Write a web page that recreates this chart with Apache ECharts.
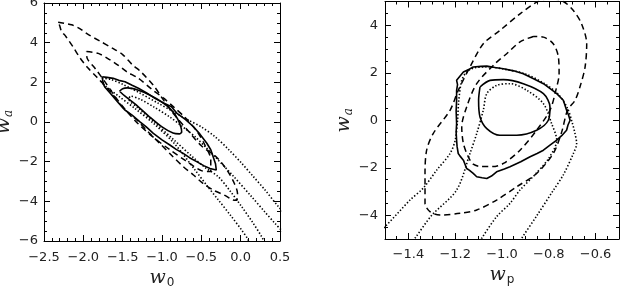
<!DOCTYPE html>
<html><head><meta charset="utf-8">
<script src="https://cdn.jsdelivr.net/npm/echarts@6/dist/echarts.min.js"></script>
<style>html,body{margin:0;padding:0;background:#fff}#c{width:620px;height:288px}</style>
</head><body><div id="c"></div>
<script>
// ---- Left panel (w0, wa) ----
const L_xTicks = [-2.5, -2.0, -1.5, -1.0, -0.5, 0.0, 0.5];
const L_yTicks = [-6, -4, -2, 0, 2, 4, 6];
const L_solidInner = [[-1.54,1.55],[-1.5,1.68],[-1.44,1.72],[-1.3,1.6],[-1.15,1.35],[-1.0,1.0],[-0.88,0.6],[-0.8,0.15],[-0.76,-0.25],[-0.75,-0.5],[-0.78,-0.6],[-0.86,-0.56],[-1.0,-0.25],[-1.17,0.3],[-1.34,0.9],[-1.47,1.3],[-1.54,1.55]];
const L_solidOuter = [[-1.76,2.28],[-1.7,2.25],[-1.62,2.2],[-1.55,2.1],[-1.47,2.03],[-1.38,1.85],[-1.3,1.7],[-1.2,1.48],[-1.09,1.19],[-1.0,1.0],[-0.88,0.77],[-0.81,0.44],[-0.7,0.12],[-0.6,-0.24],[-0.52,-0.6],[-0.43,-1.07],[-0.38,-1.4],[-0.35,-1.75],[-0.32,-2.1],[-0.31,-2.42],[-0.33,-2.48],[-0.39,-2.34],[-0.47,-2.2],[-0.56,-2.0],[-0.65,-1.8],[-0.73,-1.58],[-0.82,-1.38],[-0.9,-1.16],[-1.0,-0.9],[-1.11,-0.57],[-1.2,-0.25],[-1.28,0.01],[-1.38,0.35],[-1.47,0.6],[-1.55,0.95],[-1.62,1.28],[-1.68,1.55],[-1.73,1.78],[-1.75,2.0],[-1.76,2.28]];
const L_dashOuter = [[-2.32,5.03],[-2.15,4.9],[-2.04,4.7],[-1.95,4.44],[-1.79,4.08],[-1.62,3.7],[-1.5,3.4],[-1.38,2.9],[-1.26,2.5],[-1.1,1.8],[-0.98,1.1],[-0.85,0.4],[-0.64,-0.57],[-0.5,-1.2],[-0.3,-1.8],[-0.17,-2.45],[-0.08,-3.1],[-0.04,-3.6],[-0.05,-3.95],[-0.1,-3.93],[-0.2,-3.7],[-0.35,-3.43],[-0.48,-3.09],[-0.6,-2.67],[-0.73,-2.25],[-0.86,-1.75],[-1.03,-1.07],[-1.15,-0.6],[-1.32,0.1],[-1.49,0.7],[-1.65,1.5],[-1.83,2.27],[-1.94,2.72],[-2.04,3.22],[-2.13,3.78],[-2.22,4.3],[-2.28,4.6],[-2.3,4.85],[-2.32,5.03]];
const L_dashInner = [[-1.96,3.55],[-1.81,3.46],[-1.66,3.13],[-1.56,2.87],[-1.45,2.54],[-1.3,2.2],[-1.13,1.65],[-0.98,1.2],[-0.85,0.75],[-0.7,0.2],[-0.55,-0.5],[-0.45,-1.2],[-0.38,-1.9],[-0.38,-2.5],[-0.5,-2.45],[-0.7,-1.95],[-0.9,-1.4],[-1.1,-0.8],[-1.3,-0.1],[-1.45,0.55],[-1.6,1.3],[-1.72,2.0],[-1.85,2.7],[-1.95,3.2],[-1.96,3.55]];
const L_dotOuter = [[0.6,-4.75],[0.48,-4.27],[0.31,-3.43],[0.15,-2.7],[0.013,-2.08],[-0.15,-1.4],[-0.326,-0.74],[-0.5,-0.25],[-0.666,0.1],[-0.856,0.52],[-1.05,0.95],[-1.3,1.5],[-1.5,1.9],[-1.65,2.15],[-1.75,2.2],[-1.77,2.05],[-1.7,1.75],[-1.55,1.3],[-1.35,0.7],[-1.1,-0.1],[-0.84,-1.1],[-0.58,-2.42],[-0.43,-3.2],[-0.284,-3.93],[-0.13,-4.7],[0.013,-5.45],[0.09,-5.9],[0.12,-6.2]];
const L_dotInner = [[0.6,-5.8],[0.436,-5.11],[0.3,-4.5],[0.14,-3.77],[-0.1,-2.7],[-0.326,-1.75],[-0.45,-1.25],[-0.58,-0.74],[-0.75,-0.2],[-0.9,0.25],[-1.1,0.75],[-1.28,1.15],[-1.4,1.3],[-1.42,1.15],[-1.3,0.7],[-1.1,0.0],[-0.85,-0.9],[-0.6,-1.8],[-0.45,-2.3],[-0.284,-2.76],[-0.13,-3.5],[0.013,-4.27],[0.15,-5.05],[0.267,-5.78],[0.32,-6.2]];

// ---- Right panel (wp, wa) ----
const R_xTicks = [-1.4, -1.2, -1.0, -0.8, -0.6];
const R_yTicks = [-4, -2, 0, 2, 4];
const R_solidInner = [[-1.094,1.4],[-1.051,1.68],[-0.994,1.71],[-0.909,1.54],[-0.823,1.12],[-0.795,0.56],[-0.802,0.0],[-0.852,-0.42],[-0.937,-0.63],[-1.009,-0.63],[-1.065,-0.35],[-1.094,0.14],[-1.1,0.84],[-1.094,1.4]];
const R_solidOuter = [[-1.194,1.26],[-1.19,1.5],[-1.194,1.68],[-1.18,1.85],[-1.165,2.03],[-1.14,2.15],[-1.123,2.24],[-1.09,2.27],[-1.065,2.28],[-1.03,2.22],[-0.994,2.17],[-0.95,2.08],[-0.909,1.96],[-0.865,1.75],[-0.823,1.54],[-0.79,1.3],[-0.766,1.12],[-0.738,0.84],[-0.724,0.42],[-0.715,0.2],[-0.709,0.0],[-0.718,-0.2],[-0.724,-0.42],[-0.745,-0.65],[-0.766,-0.84],[-0.795,-1.05],[-0.823,-1.26],[-0.85,-1.4],[-0.88,-1.54],[-0.92,-1.75],[-0.966,-1.96],[-0.99,-2.05],[-1.023,-2.17],[-1.045,-2.35],[-1.065,-2.45],[-1.085,-2.42],[-1.108,-2.38],[-1.123,-2.24],[-1.14,-2.1],[-1.151,-2.03],[-1.165,-1.68],[-1.18,-1.5],[-1.187,-1.4],[-1.192,-1.1],[-1.194,-0.84],[-1.196,-0.5],[-1.194,-0.14],[-1.196,0.4],[-1.194,0.84],[-1.194,1.26]];
const R_dashOuter = [[-0.8,5.15],[-0.852,4.97],[-0.923,4.48],[-1.009,3.78],[-1.08,3.22],[-1.137,2.24],[-1.187,1.26],[-1.222,0.42],[-1.294,-0.56],[-1.322,-1.26],[-1.329,-2.24],[-1.329,-2.9],[-1.329,-3.5],[-1.308,-3.85],[-1.265,-3.99],[-1.179,-3.92],[-1.108,-3.78],[-1.023,-3.36],[-0.937,-2.8],[-0.852,-2.24],[-0.781,-1.4],[-0.745,-0.5],[-0.72,0.42],[-0.688,0.84],[-0.667,1.4],[-0.645,2.24],[-0.638,3.22],[-0.66,4.06],[-0.695,4.62],[-0.738,5.0],[-0.8,5.15]];
const R_dashInner = [[-0.866,3.53],[-0.923,3.3],[-0.98,2.8],[-1.03,2.38],[-1.108,1.54],[-1.151,0.56],[-1.172,-0.28],[-1.165,-0.98],[-1.144,-1.54],[-1.123,-1.85],[-1.09,-1.95],[-1.04,-1.95],[-0.994,-1.82],[-0.923,-1.26],[-0.852,-0.42],[-0.795,0.42],[-0.77,1.26],[-0.756,1.96],[-0.759,2.66],[-0.781,3.22],[-0.823,3.5],[-0.866,3.53]];
const R_dotOuter = [[-1.53,-4.7],[-1.5,-4.48],[-1.393,-3.36],[-1.336,-2.85],[-1.279,-2.1],[-1.222,-1.4],[-1.2,-0.84],[-1.19,0.0],[-1.185,0.8],[-1.172,1.68],[-1.151,2.03],[-1.12,2.2],[-1.06,2.25],[-0.99,2.15],[-0.9,1.95],[-0.82,1.55],[-0.76,1.1],[-0.72,0.5],[-0.7,-0.1],[-0.688,-0.56],[-0.681,-0.98],[-0.695,-1.4],[-0.738,-2.3],[-0.78,-2.94],[-0.85,-4.0],[-0.916,-4.97],[-0.93,-5.2]];
const R_dotInner = [[-1.39,-5.2],[-1.372,-4.97],[-1.3,-4.0],[-1.194,-2.94],[-1.137,-1.4],[-1.108,-0.56],[-1.08,0.42],[-1.065,1.12],[-1.023,1.47],[-0.966,1.54],[-0.894,1.26],[-0.823,0.7],[-0.788,-0.14],[-0.766,-0.84],[-0.8,-1.6],[-0.86,-2.3],[-0.923,-2.94],[-0.966,-3.5],[-1.023,-4.06],[-1.087,-4.97],[-1.1,-5.2]];

const chart = echarts.init(document.getElementById('c'), null, {renderer:'canvas'});
const K = '#000';
const TICKFONT = {fontFamily:'DejaVu Sans', fontSize:13, color:'#222'};
const fmt1 = v => (v < -1e-9 ? '\u2212' : '') + Math.abs(v).toFixed(1);
const fmt0 = v => (v < -1e-9 ? '\u2212' : '') + Math.abs(Math.round(v));
const nameRich = {
  w:{fontFamily:'DejaVu Serif', fontStyle:'italic', fontSize:19, color:'#222'},
  s:{fontFamily:'DejaVu Sans', fontSize:12, color:'#222', padding:[9,0,0,1]},
  a:{fontFamily:'DejaVu Serif', fontStyle:'italic', fontSize:12, color:'#222', padding:[9,0,0,1]}
};
function axLine(show){return {show:show, onZero:false, lineStyle:{color:K, width:1}};}
function base(grid, pos, min, max){
  return {type:'value', gridIndex:grid, position:pos, min:min, max:max,
    splitLine:{show:false}, minorSplitLine:{show:false}, axisLine:axLine(true)};
}
function major(ax, len, labels, fmt, margin, custom){
  ax.axisTick = {show:true, inside:true, length:len, lineStyle:{color:K, width:1}};
  ax.axisLabel = labels ? Object.assign({show:true, margin:margin, formatter:fmt}, TICKFONT) : {show:false};
  if (custom){ ax.axisTick.customValues = custom; if (labels) ax.axisLabel.customValues = custom; }
  return ax;
}
function minorOnly(ax, interval){
  ax.interval = interval;
  ax.axisLine = axLine(false);
  ax.axisTick = {show:true, inside:true, length:3, lineStyle:{color:K, width:1}};
  ax.axisLabel = {show:false};
  return ax;
}

// Left axes
const xL = major(base(0,'bottom',L_xTicks[0],L_xTicks[L_xTicks.length-1]), 6, true, fmt1, 10);
xL.interval = 0.5; xL.minorTick = {show:true, splitNumber:5, length:3, lineStyle:{color:K}};
Object.assign(xL, {name:'{w|w}{s|0}', nameLocation:'middle', nameGap:10, nameTextStyle:{rich:nameRich}});
const xLt = major(base(0,'top',L_xTicks[0],L_xTicks[L_xTicks.length-1]), 6, false);
xLt.interval = 0.5; xLt.minorTick = {show:true, splitNumber:5, length:3, lineStyle:{color:K}};
const yL = major(base(0,'left',L_yTicks[0],L_yTicks[L_yTicks.length-1]), 6, true, fmt0, 6);
yL.interval = 2; yL.minorTick = {show:true, splitNumber:4, length:3, lineStyle:{color:K}};
Object.assign(yL, {name:'{w|w}{a|a}', nameLocation:'middle', nameGap:26, nameRotate:90, nameTextStyle:{rich:nameRich}});
const yLr = major(base(0,'right',L_yTicks[0],L_yTicks[L_yTicks.length-1]), 6, false);
yLr.interval = 2; yLr.minorTick = {show:true, splitNumber:4, length:3, lineStyle:{color:K}};

// Right axes
const xR = major(base(1,'bottom',-1.5,-0.5), 6, true, fmt1, 9, R_xTicks);
Object.assign(xR, {name:'{w|w}{s|p}', nameLocation:'middle', nameGap:11, nameTextStyle:{rich:nameRich}});
const xRm = minorOnly(base(1,'bottom',-1.5,-0.5), 0.05);
const xRt = major(base(1,'top',-1.5,-0.5), 6, false, null, 0, R_xTicks);
const xRtm = minorOnly(base(1,'top',-1.5,-0.5), 0.05);
const yR = major(base(1,'left',-5,5), 6, true, fmt0, 7, R_yTicks);
Object.assign(yR, {name:'{w|w}{a|a}', nameLocation:'middle', nameGap:30, nameRotate:90, nameTextStyle:{rich:nameRich}});
const yRm = minorOnly(base(1,'left',-5,5), 0.5);
const yRr = major(base(1,'right',-5,5), 6, false, null, 0, R_yTicks);
const yRrm = minorOnly(base(1,'right',-5,5), 0.5);

function ser(data, xi, yi, kind){
  const ls = {color:K, width:1.6, type:'solid'};
  let smooth = 0.3;
  if (kind === 'dash'){ ls.type = [6,4]; ls.width = 1.5; }
  if (kind === 'dot'){ ls.type = [1.4,2]; ls.width = 1.6; }
  if (kind === 'jag'){ smooth = false; }
  return {type:'line', xAxisIndex:xi, yAxisIndex:yi, data:data, showSymbol:false, symbol:'none',
    smooth:smooth, clip:true, lineStyle:ls, silent:true, z:3};
}

chart.setOption({
  animation:false,
  backgroundColor:'#fff',
  grid:[
    {left:44, top:3, width:236, height:238, outerBoundsMode:'none', containLabel:false},
    {left:385, top:1.5, width:234, height:237.5, outerBoundsMode:'none', containLabel:false}
  ],
  xAxis:[xL, xLt, xR, xRm, xRt, xRtm],
  yAxis:[yL, yLr, yR, yRm, yRr, yRrm],
  series:[
    ser(L_dotOuter,0,0,'dot'), ser(L_dotInner,0,0,'dot'),
    ser(L_dashOuter,0,0,'dash'), ser(L_dashInner,0,0,'dash'),
    ser(L_solidOuter,0,0,'jag'), ser(L_solidInner,0,0,'solid'),
    ser(R_dotOuter,2,2,'dot'), ser(R_dotInner,2,2,'dot'),
    ser(R_dashOuter,2,2,'dash'), ser(R_dashInner,2,2,'dash'),
    ser(R_solidOuter,2,2,'jag'), ser(R_solidInner,2,2,'solid')
  ]
});
</script></body></html>
